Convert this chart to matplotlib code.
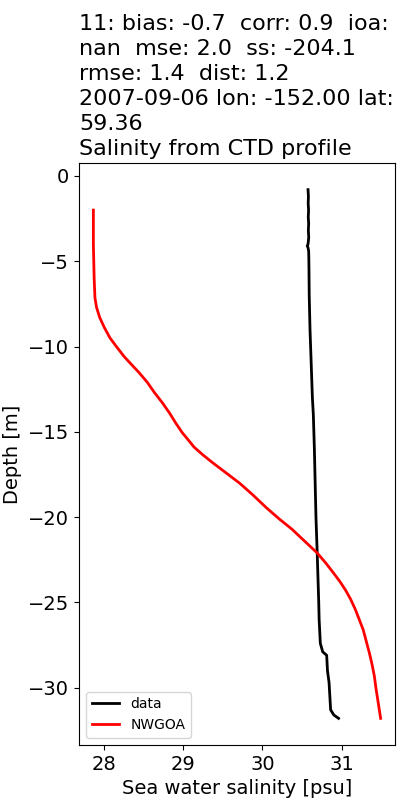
import numpy as np
import matplotlib
matplotlib.use("Agg")
import matplotlib.pyplot as plt

# observed CTD profile
depth_obs = [-0.8, -1.2, -1.6, -2.0, -2.4, -2.8, -3.2, -3.6, -4.0, -4.1, -4.2, -4.4, -4.8,
             -5.5, -7.0, -9.0, -11.0, -13.0, -14.0, -16.0, -18.0, -20.0, -22.0, -23.5,
             -25.0, -26.0, -27.4, -27.9, -28.1, -29.0, -29.7, -30.5, -31.3, -31.6, -31.8]
sal_obs = [30.575, 30.58, 30.577, 30.582, 30.578, 30.583, 30.579, 30.584, 30.575, 30.565, 30.575, 30.583, 30.585,
           30.587, 30.59, 30.60, 30.615, 30.63, 30.642, 30.655, 30.665, 30.675, 30.69, 30.70,
           30.71, 30.715, 30.73, 30.76, 30.81, 30.82, 30.84, 30.85, 30.86, 30.90, 30.96]

# model profile
depth_mod = [-2.0, -4.0, -6.0, -7.15, -7.7, -8.3, -8.9, -9.5, -10.0, -10.6, -11.1, -11.55,
             -12.1, -12.7, -13.3, -13.9, -14.5, -15.05, -15.5, -15.9, -16.35, -16.8, -17.4,
             -18.0, -18.7, -19.45, -20.1, -20.7, -21.4, -22.1, -22.7, -23.3, -23.8, -24.3,
             -24.8, -25.4, -26.0, -26.6, -27.3, -28.0, -28.6, -29.3, -30.0, -30.9, -31.8]
sal_mod = [27.87, 27.87, 27.88, 27.89, 27.91, 27.95, 28.01, 28.08, 28.16, 28.26, 28.36, 28.45,
           28.55, 28.64, 28.74, 28.83, 28.91, 28.99, 29.07, 29.14, 29.25, 29.37, 29.54,
           29.71, 29.88, 30.05, 30.21, 30.37, 30.53, 30.69, 30.80, 30.90, 30.98, 31.05,
           31.11, 31.17, 31.22, 31.27, 31.31, 31.35, 31.38, 31.41, 31.43, 31.46, 31.49]

title = ("11: bias: -0.7  corr: 0.9  ioa:\nnan  mse: 2.0  ss: -204.1\nrmse: 1.4  dist: 1.2\n"
         "2007-09-06 lon: -152.00 lat:\n59.36\nSalinity from CTD profile")

fig, ax = plt.subplots(figsize=(4, 8), dpi=100)
fig.subplots_adjust(left=0.1975, right=0.9875, top=0.796, bottom=0.069)

ax.plot(sal_obs, depth_obs, color='black', linewidth=2, label='data')
ax.plot(sal_mod, depth_mod, color='red', linewidth=2, label='NWGOA')

ax.set_title(title, loc='left', fontsize=16, linespacing=1.31)
ax.set_xlabel('Sea water salinity [psu]', fontsize=14)
ax.set_ylabel('Depth [m]', fontsize=14)
ax.tick_params(labelsize=14)
ax.legend(loc='lower left', fontsize=10)

fig.savefig('out.png')
